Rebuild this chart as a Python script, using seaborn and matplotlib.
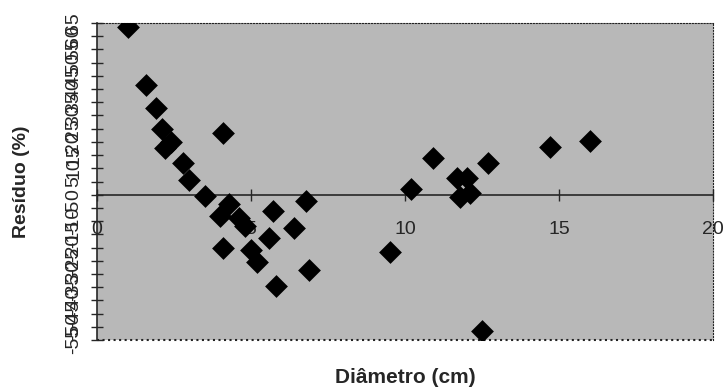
import numpy as np
import pandas as pd
import matplotlib
matplotlib.use("Agg")
import matplotlib.pyplot as plt
import seaborn as sns

# residuals
diametro = [1.0, 1.6, 1.9, 2.1, 2.2, 2.4, 2.8, 3.0, 3.5, 4.1, 4.3, 4.0, 4.1,
            4.6, 4.8, 5.0, 5.2, 5.7, 5.6, 5.8, 6.4, 6.8, 6.9, 9.5, 10.2,
            10.9, 11.7, 12.0, 11.8, 12.1, 12.7, 12.5, 14.7, 16.0]
residuo = [63.5, 41.5, 33.0, 25.0, 17.5, 20.0, 12.0, 5.5, -0.5, 23.5, -3.5,
           -8.0, -20.0, -9.0, -12.0, -21.0, -25.5, -6.0, -16.5, -34.5, -12.5,
           -2.5, -28.5, -21.5, 2.0, 14.0, 6.5, 6.5, -1.0, 0.5, 12.0, -51.5,
           18.0, 20.5]

x_ticks = [0, 5, 10, 15, 20]
y_ticks = list(range(-55, 70, 5))

df = pd.DataFrame({"Diametro": diametro, "Residuo": residuo})

sns.set_style("ticks")
plt.rcParams["font.family"] = ["Liberation Sans", "DejaVu Sans"]

fig = plt.figure(figsize=(7.26, 3.88), dpi=100)
ax = fig.add_axes([0.1336, 0.1237, 0.8484, 0.817])
ax.set_facecolor("#b8b8b8")

sns.scatterplot(data=df, x="Diametro", y="Residuo", marker="D", s=135,
                color="black", edgecolor="black", linewidth=0, ax=ax, zorder=3)

# x axis sits on the zero line (set before the tick styling, it resets ticks)
ax.spines["bottom"].set_position(("data", 0))
ax.spines["bottom"].set_linewidth(1.2)
ax.spines["left"].set_linewidth(1.2)
for side in ["top", "right"]:
    ax.spines[side].set_visible(True)
    ax.spines[side].set_linestyle(":")
    ax.spines[side].set_color("#222222")
ax.axhline(-55, color="#222222", linestyle=":", linewidth=1.5, clip_on=False)

ax.set_xlim(0, 20)
ax.set_ylim(-55, 65)
ax.set_xticks(x_ticks)
ax.set_yticks(y_ticks)
ax.set_yticklabels([str(v) for v in y_ticks], rotation=90, va="center")
ax.set_xticklabels([str(v) for v in x_ticks])

ax.tick_params(axis="x", direction="inout", length=8, width=1, pad=15,
               labelsize=14)
ax.tick_params(axis="y", direction="inout", length=9, width=1, pad=6,
               labelsize=14)

ax.set_xlabel("")
ax.set_ylabel("Resíduo (%)", fontsize=14, fontweight="bold")
ax.yaxis.set_label_coords(-0.108, 0.5)
fig.text(0.558, 0.028, "Diâmetro (cm)", fontsize=15, fontweight="bold",
         ha="center", va="center")

fig.savefig("out.png", dpi=100)
